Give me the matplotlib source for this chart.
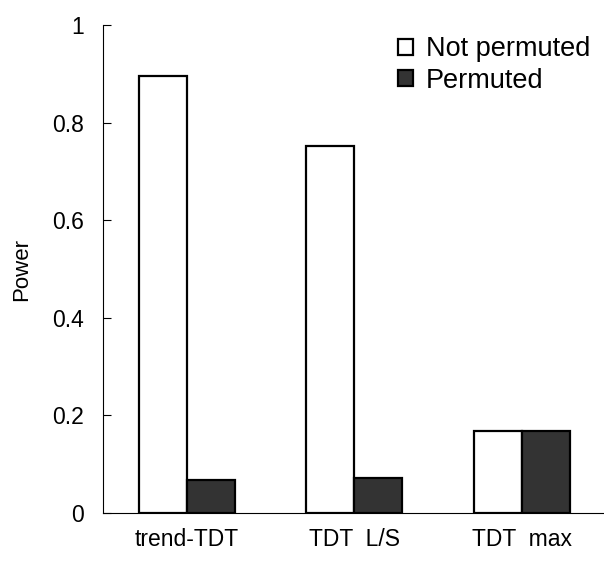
import numpy as np
import matplotlib.pyplot as plt

plt.rcParams['font.family'] = ['Liberation Sans', 'DejaVu Sans']

methods = ["trend-TDT", "TDT  L/S", "TDT  max"]
not_permuted = [0.895, 0.752, 0.168]
permuted = [0.067, 0.072, 0.168]

x = np.arange(len(methods))
w = 0.287

fig = plt.figure(figsize=(6.04, 5.61), dpi=100)
ax = fig.add_axes([0.1705, 0.0856, 0.8295, 0.8694])

ax.bar(x - w / 2, not_permuted, w, color='white', edgecolor='black', linewidth=1.6, label="Not permuted")
ax.bar(x + w / 2, permuted, w, color='#333333', edgecolor='black', linewidth=1.6, label="Permuted")

ax.set_xlim(-0.5, 2.49)
ax.set_ylim(0, 1)
ax.set_yticks([0, 0.2, 0.4, 0.6, 0.8, 1])
ax.set_yticklabels(["0", "0.2", "0.4", "0.6", "0.8", "1"])
ax.set_xticks(x)
ax.set_xticklabels(methods)
ax.tick_params(axis='y', labelsize=16.5, length=6, width=0.8, direction='in', pad=14)
ax.tick_params(axis='x', labelsize=16.5, length=0, pad=11)
ax.set_ylabel("Power", fontsize=16, labelpad=14)

for s in ['top', 'right']:
    ax.spines[s].set_visible(False)
ax.spines['left'].set_linewidth(0.8)
ax.spines['bottom'].set_linewidth(0.8)

ax.legend(loc='upper right', bbox_to_anchor=(1.0, 1.005), frameon=False, fontsize=19.5,
          handlelength=0.55, handleheight=0.55, handletextpad=0.5, labelspacing=0.2,
          borderaxespad=0.1)

fig.savefig("out.png", dpi=100)
